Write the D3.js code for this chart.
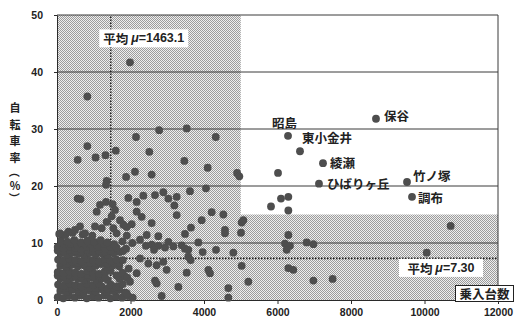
<!DOCTYPE html>
<html>
<head>
<meta charset="utf-8">
<script src="https://cdn.jsdelivr.net/npm/d3@7"></script>
<style>
  body { margin: 0; background: #fff; }
  text { font-family: "Liberation Sans", Arial, "Noto Sans CJK JP", sans-serif; font-weight: bold; fill: #222; }
</style>
</head>
<body>
<svg id="chart" width="516" height="325"></svg>
<script>
// Axis ticks
const xTicks = [0, 2000, 4000, 6000, 8000, 10000, 12000];
const yTicks = [0, 10, 20, 30, 40, 50];
const yTitle = ["自", "転", "車", "率", "（", "%", "）"];
const xTitle = "乗入台数";

// Means of the two variables
const meanX = 1463.1;
const meanY = 7.30;
const meanXLabel = "=1463.1";
const meanYLabel = "=7.30";

// Shaded zones: [x0, x1, y0, y1]
const zoneLeft = [0, 5000, 0, 50];
const zoneLow = [5000, 12000, 0, 15];

// Named stations: [乗入台数, 自転車率]
const stationNames = ["保谷", "昭島", "東小金井", "綾瀬", "ひばりヶ丘", "竹ノ塚", "調布"];
const stationValues = [[8680, 31.8], [6286, 28.8], [6612, 26.1], [7238, 24.0], [7129, 20.4], [9524, 20.7], [9660, 18.1]];

// Stations with few parking spaces (dense group near the origin)
const smallStations = [
  [20,0.5],[170,0.3],[330,0.7],[490,0.4],[650,0.8],[810,0.3],[970,0.6],[1130,0.4],[1290,0.8],[1450,0.3],[1610,0.6],[1770,0.4],[1930,0.7],[2060,0.4],
  [90,1.6],[250,1.4],[410,1.8],[570,1.5],[730,1.3],[890,1.7],[1050,1.5],[1210,1.9],[1370,1.4],[1530,1.6],[1690,1.8],[1850,1.3],
  [100,2.1],[260,2.2],[420,2.0],[580,2.3],[740,2.0],[900,2.2],[1060,2.1],[1220,2.4],[1380,2.0],[1540,2.2],[1700,2.3],
  [30,2.7],[180,2.5],[340,2.9],[500,2.6],[660,2.4],[820,2.8],[980,2.6],[1140,2.9],[1460,2.7],[1620,2.4],[1790,2.8],
  [100,3.8],[260,3.6],[420,4.0],[580,3.7],[740,3.5],[900,3.9],[1060,3.6],[1220,3.8],[1380,3.5],[1700,3.7],
  [20,4.3],[180,4.2],[340,4.4],[500,4.2],[660,4.1],[820,4.4],[980,4.2],[1140,4.3],[1300,4.1],[1620,4.3],[1850,4.1],
  [20,4.9],[180,4.7],[340,5.0],[500,4.8],[660,4.6],[820,5.1],[980,4.8],[1140,4.6],[1300,5.0],[1460,5.1],[1780,4.8],
  [90,6.0],[250,5.8],[410,6.2],[570,5.9],[730,6.1],[890,5.7],[1050,6.0],[1210,6.3],[1370,5.8],[1530,6.1],[1690,5.9],
  [100,6.5],[260,6.4],[420,6.7],[580,6.5],[740,6.4],[900,6.6],[1060,6.5],[1220,6.7],[1380,6.4],[1540,6.6],[1700,6.5],
  [30,7.1],[180,6.9],[340,7.2],[500,7.0],[660,6.8],[820,7.3],[980,7.0],[1140,6.8],[1300,7.2],[1460,6.9],[1620,7.1],[1790,7.0],
  [100,8.2],[260,8.0],[420,8.3],[580,8.1],[740,7.9],[900,8.3],[1060,8.0],[1220,8.2],[1380,7.9],[1540,8.2],[1710,8.4],
  [20,8.7],[180,8.6],[340,8.8],[500,8.7],[660,8.5],[820,8.8],[980,8.6],[1140,8.7],[1300,8.5],[1460,8.7],[1800,8.6],
  [20,9.3],[180,9.1],[340,9.4],[500,9.2],[660,9.0],[820,9.4],[980,9.1],[1140,9.3],[1300,9.0],[1460,9.4],[1620,9.2],
  [190,9.8],[370,9.9],[550,9.7],[740,9.9],[920,9.8],[1100,9.7],[1280,9.9],[1550,9.8],
  [110,10.4],[290,10.2],[470,10.5],[650,10.1],[830,10.4],[1010,10.2],[1190,10.5],[1370,10.1],[1780,10.3],
  [60,11.6],[230,11.4],[420,11.8],[700,11.5],[960,11.3],[1900,11.3],[2050,10.0],[1950,5.5],[1880,9.0]
];

// Remaining stations
const otherStations = [
  [1986,41.7],[825,35.7],[825,27.0],[563,24.6],[1050,25.0],[1320,25.4],[1600,26.2],[2150,28.6],[2512,26.0],[2780,29.8],[3530,30.1],[4320,28.6],
  [3465,24.4],[4100,23.2],[4900,22.3],[4961,21.7],[2576,22.0],[2122,22.5],[1880,21.6],[1351,20.9],[1333,20.2],
  [563,17.8],[640,17.7],[1941,17.9],[2168,17.2],[2349,18.3],[2667,18.4],[2893,18.9],[3030,17.8],[3257,18.1],[3193,16.6],[3619,19.1],[4054,19.6],
  [3257,14.9],[4209,15.4],[4526,15.0],[2168,15.5],[2304,14.6],[2576,13.5],[2032,13.3],[1896,12.8],[3937,14.0],[3646,12.7],[4571,12.3],[4571,11.7],
  [5025,13.6],[5070,14.0],[5007,11.8],[3483,11.6],[2757,11.2],[2440,11.4],[2259,10.6],[3030,10.2],[3846,10.1],
  [2420,9.5],[2580,9.7],[2760,9.5],[2940,9.2],[3166,9.4],[3393,9.6],[3483,9.0],[2640,8.8],[3964,8.4],[3574,8.8],[3574,7.6],[3637,7.0],[4798,8.3],[4327,8.8],[2259,7.3],
  [2485,6.4],[2712,6.1],[2893,6.7],[2984,5.3],[2168,4.7],[2667,3.4],[2712,2.9],[1914,3.9],[1986,3.2],[3529,4.8],[4118,5.3],[4163,4.7],[3302,2.3],[2848,0.7],
  [4662,2.1],[4662,0.4],[5025,6.0],[5206,3.2],[1896,1.2],
  [1080,15.5],[1170,16.7],[1333,17.2],[1515,16.8],[1578,15.8],[1488,14.7],[1351,13.7],[1216,12.6],[1533,12.6],[1714,14.0],[1805,13.2],[1623,11.7],
  [1034,12.9],[762,11.7],[626,12.9],[82,11.7],[308,12.0],[490,12.3],
  [10712,13.0],[6295,11.4],[6204,9.9],[6340,9.5],[6250,8.8],[6794,10.1],[6976,9.8],[10060,8.3],[6295,5.6],[6430,5.3],[6976,3.4],[7500,3.7],
  [6014,22.3],[5823,16.4],[6095,17.8],[6295,18.1],[6295,15.7]
];

const svg = d3.select("#chart");
const x = d3.scaleLinear().domain([0, 12000]).range([57, 498]);
const y = d3.scaleLinear().domain([0, 50]).range([300, 15]);

// Halftone fill for the shaded zones
const pat = svg.append("defs").append("pattern")
  .attr("id", "halftone").attr("patternUnits", "userSpaceOnUse")
  .attr("width", 2).attr("height", 2);
pat.append("rect").attr("width", 2).attr("height", 2).attr("fill", "#eeeeee");
pat.append("rect").attr("x", 0).attr("y", 0).attr("width", 1).attr("height", 1).attr("fill", "#9c9c9c");
pat.append("rect").attr("x", 1).attr("y", 1).attr("width", 1).attr("height", 1).attr("fill", "#9c9c9c");

svg.selectAll("rect.zone").data([zoneLeft, zoneLow]).enter().append("rect")
  .attr("class", "zone")
  .attr("x", d => x(d[0])).attr("y", d => y(d[3]))
  .attr("width", d => x(d[1]) - x(d[0])).attr("height", d => y(d[2]) - y(d[3]))
  .attr("fill", "url(#halftone)");

// Horizontal grid lines
svg.selectAll("line.grid").data(yTicks.filter(v => v > 0)).enter().append("line")
  .attr("class", "grid")
  .attr("x1", x(0)).attr("x2", x(12000))
  .attr("y1", d => y(d)).attr("y2", d => y(d))
  .attr("stroke", "#3a3a3a").attr("stroke-width", 1);

// Right border
svg.append("line").attr("x1", x(12000)).attr("x2", x(12000)).attr("y1", y(0)).attr("y2", y(50))
  .attr("stroke", "#3a3a3a").attr("stroke-width", 1);

// Axes
const xAxis = svg.append("g").attr("transform", `translate(0,${y(0)})`)
  .call(d3.axisBottom(x).tickValues(xTicks).tickSize(4).tickSizeOuter(0).tickPadding(5).tickFormat(d3.format("d")));
const yAxis = svg.append("g").attr("transform", `translate(${x(0)},0)`)
  .call(d3.axisLeft(y).tickValues(yTicks).tickSize(3).tickSizeOuter(0).tickPadding(11).tickFormat(d3.format("d")));
[xAxis, yAxis].forEach(g => {
  g.selectAll("path, line").attr("stroke", "#2a2a2a");
  g.selectAll("text").style("font-size", "10.5px").style("font-weight", "bold").attr("fill", "#222");
});

// Mean lines
svg.append("line").attr("x1", x(meanX)).attr("x2", x(meanX)).attr("y1", y(0)).attr("y2", y(50))
  .attr("stroke", "#1a1a1a").attr("stroke-width", 1.4).attr("stroke-dasharray", "1.5,1.5");
svg.append("line").attr("x1", x(0)).attr("x2", x(12000)).attr("y1", y(meanY)).attr("y2", y(meanY))
  .attr("stroke", "#1a1a1a").attr("stroke-width", 1.6).attr("stroke-dasharray", "1.5,1.5");

// Points
const allPoints = smallStations.concat(otherStations, stationValues);
svg.selectAll("circle.pt").data(allPoints).enter().append("circle")
  .attr("class", "pt")
  .attr("cx", d => x(d[0])).attr("cy", d => y(d[1])).attr("r", 3.9)
  .attr("fill", "#4e4e4e");

// Station labels (offsets in px from each point)
const labelOffset = {"保谷": [8, -3], "昭島": [-16, -13], "東小金井": [2, -14], "綾瀬": [7, -1],
                     "ひばりヶ丘": [8, 0], "竹ノ塚": [6, -7], "調布": [6, 1]};
svg.selectAll("text.station").data(stationNames).enter().append("text")
  .attr("class", "station")
  .attr("x", (d, i) => x(stationValues[i][0]) + labelOffset[d][0])
  .attr("y", (d, i) => y(stationValues[i][1]) + labelOffset[d][1])
  .attr("dominant-baseline", "central")
  .style("font-size", "12.5px").style("font-family", "'Noto Sans CJK JP', sans-serif").style("font-weight", "bold")
  .text(d => d);

// Mean labels with white backing
function meanLabel(cx, cy, w, h, value) {
  svg.append("rect").attr("x", cx - w / 2).attr("y", cy - h / 2).attr("width", w).attr("height", h).attr("fill", "#fff");
  const t = svg.append("text").attr("x", cx).attr("y", cy).attr("text-anchor", "middle")
    .attr("dominant-baseline", "central").style("font-size", "12.5px");
  t.append("tspan").style("font-family", "'Noto Sans CJK JP', sans-serif").text("平均 ");
  t.append("tspan").style("font-style", "italic").text("μ");
  t.append("tspan").text(value);
}
meanLabel(x(meanX) + 33, y(45.9), 89, 18, meanXLabel);
meanLabel(441, y(meanY) + 9.5, 84, 18, meanYLabel);

// X-axis title in a framed box
svg.append("rect").attr("x", 455.5).attr("y", 285.5).attr("width", 58).attr("height", 16)
  .attr("fill", "#fff").attr("stroke", "#222").attr("stroke-width", 1);
svg.append("text").attr("x", 484.5).attr("y", 293.5).attr("text-anchor", "middle").attr("dominant-baseline", "central")
  .style("font-size", "12.5px").style("font-family", "'Noto Sans CJK JP', sans-serif").text(xTitle);

// Vertical Y-axis title
const titleY = [107, 123.5, 140, 156.5, 172, 185, 198];
yTitle.forEach((ch, i) => {
  const t = svg.append("text").attr("text-anchor", "middle").attr("dominant-baseline", "central")
    .style("font-size", "11px").style("font-family", "'Noto Sans CJK JP', sans-serif").text(ch);
  if (ch === "（" || ch === "）") t.attr("transform", `translate(15,${titleY[i]}) rotate(90)`);
  else t.attr("x", 15).attr("y", titleY[i]);
});
</script>
</body>
</html>
